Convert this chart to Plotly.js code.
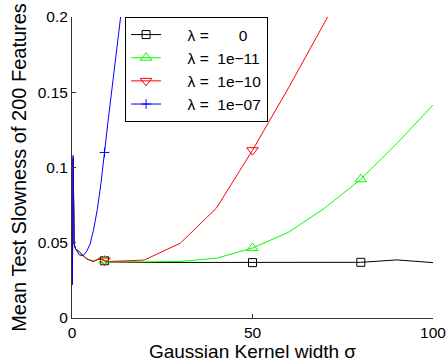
<!DOCTYPE html>
<html>
<head>
<meta charset="utf-8">
<script src="https://cdn.plot.ly/plotly-3.0.1.min.js"></script>
<style>html,body{margin:0;padding:0;background:#fff;}#chart{width:447px;height:362px;}</style>
</head>
<body>
<div id="chart"></div>
<script>
// Kernel widths (sigma)
const sigma = [0.1, 0.3, 0.6, 1, 2, 3, 4, 5, 6, 7, 8, 9, 10, 20, 30, 40, 50, 60, 70, 80, 90, 100];
// Mean test slowness for each lambda
const slowLambda0     = [0.022, 0.106, 0.049, 0.046, 0.044, 0.0415, 0.0395, 0.0383, 0.0376, 0.0388, 0.0392, 0.0380, 0.0373, 0.0369, 0.0369, 0.0368, 0.0368, 0.0368, 0.0369, 0.0370, 0.0386, 0.0368];
const slowLambda1e11  = [0.022, 0.100, 0.049, 0.046, 0.044, 0.0415, 0.0395, 0.0385, 0.0378, 0.0390, 0.0394, 0.0383, 0.0376, 0.0373, 0.0376, 0.0397, 0.0465, 0.0570, 0.0730, 0.0922, 0.1160, 0.1415];
const slowLambda1e10  = [0.022, 0.104, 0.049, 0.046, 0.044, 0.0415, 0.0395, 0.0384, 0.0377, 0.0389, 0.0393, 0.0382, 0.0375, 0.0385, 0.0497, 0.0730, 0.1115, 0.1530, 0.1960, 0.2400, null, null];
const slowLambda1e07  = [0.022, 0.108, 0.049, 0.046, 0.042, 0.0413, 0.0440, 0.0490, 0.0590, 0.0720, 0.0890, 0.1100, 0.1310, 0.3300, null, null, null, null, null, null, null, null];
// Sigma values where markers are drawn
const markerSigma = [9, 50, 80];
// Legend labels
const lambdaLabels = ['0', '1e\u221211', '1e\u221210', '1e\u221207'];
const labelPad = ['\u00a0\u00a0\u00a0\u00a0\u00a0\u00a0', '\u00a0', '\u00a0', '\u00a0'];
const lead = '\u00a0\u00a0\u00a0\u00a0\u00a0';
const xTitle = 'Gaussian Kernel width \u03c3';
const yTitle = 'Mean Test Slowness of 200 Features';

const series = [
  {y: slowLambda0,    color: '#000000', sym: 'square-open',        size: 8},
  {y: slowLambda1e11, color: '#00ff00', sym: 'triangle-up-open',   size: 10},
  {y: slowLambda1e10, color: '#ff0000', sym: 'triangle-down-open', size: 10},
  {y: slowLambda1e07, color: '#0000ff', sym: 'cross-thin-open',    size: 7}
];

const traces = [];
series.forEach(s => {
  traces.push({x: sigma, y: s.y, mode: 'lines', line: {color: s.color, width: 1},
    showlegend: false, hoverinfo: 'skip', connectgaps: false});
});
series.forEach(s => {
  const mx = [], my = [];
  markerSigma.forEach(v => { const i = sigma.indexOf(v); if (s.y[i] !== null) { mx.push(v); my.push(s.y[i]); } });
  traces.push({x: mx, y: my, mode: 'markers', showlegend: false, hoverinfo: 'skip',
    marker: {symbol: s.sym, size: s.size, color: s.color, line: {color: s.color, width: 1}}});
});
series.forEach((s, k) => {
  traces.push({x: [null], y: [null], mode: 'lines+markers', name: lead + '\u03bb = ' + labelPad[k] + lambdaLabels[k],
    line: {color: s.color, width: 1},
    marker: {symbol: s.sym, size: s.size, color: s.color, line: {color: s.color, width: 1}}});
});

const font = 'Liberation Sans, Arial, sans-serif';
const layout = {
  width: 447, height: 362,
  margin: {l: 72, r: 14, t: 17, b: 44},
  paper_bgcolor: '#fff', plot_bgcolor: '#fff',
  font: {family: font, size: 15.5, color: '#000'},
  showlegend: true,
  legend: {x: 0.147, y: 1, xanchor: 'left', yanchor: 'top', bgcolor: '#fff',
    bordercolor: '#000', borderwidth: 1, font: {family: font, size: 15.5, color: '#000'}},
  xaxis: {range: [0, 100], tickvals: [0, 50, 100], ticks: 'inside', ticklen: 4, tickcolor: '#333',
    showline: true, linecolor: '#333', linewidth: 1, showgrid: false, zeroline: false, mirror: false,
    tickfont: {family: font, size: 15.5}, title: {text: xTitle, font: {family: font, size: 19}, standoff: 1}},
  yaxis: {range: [0, 0.2], tickvals: [0, 0.05, 0.1, 0.15, 0.2], ticktext: ['0', '0.05', '0.1', '0.15', '0.2'],
    ticks: 'inside', ticklen: 4, tickcolor: '#333',
    showline: true, linecolor: '#333', linewidth: 1, showgrid: false, zeroline: false, mirror: false,
    tickfont: {family: font, size: 15.5}, title: {text: yTitle, font: {family: font, size: 20}, standoff: 5}}
};

Plotly.newPlot('chart', traces, layout, {displayModeBar: false, staticPlot: true});
</script>
</body>
</html>
